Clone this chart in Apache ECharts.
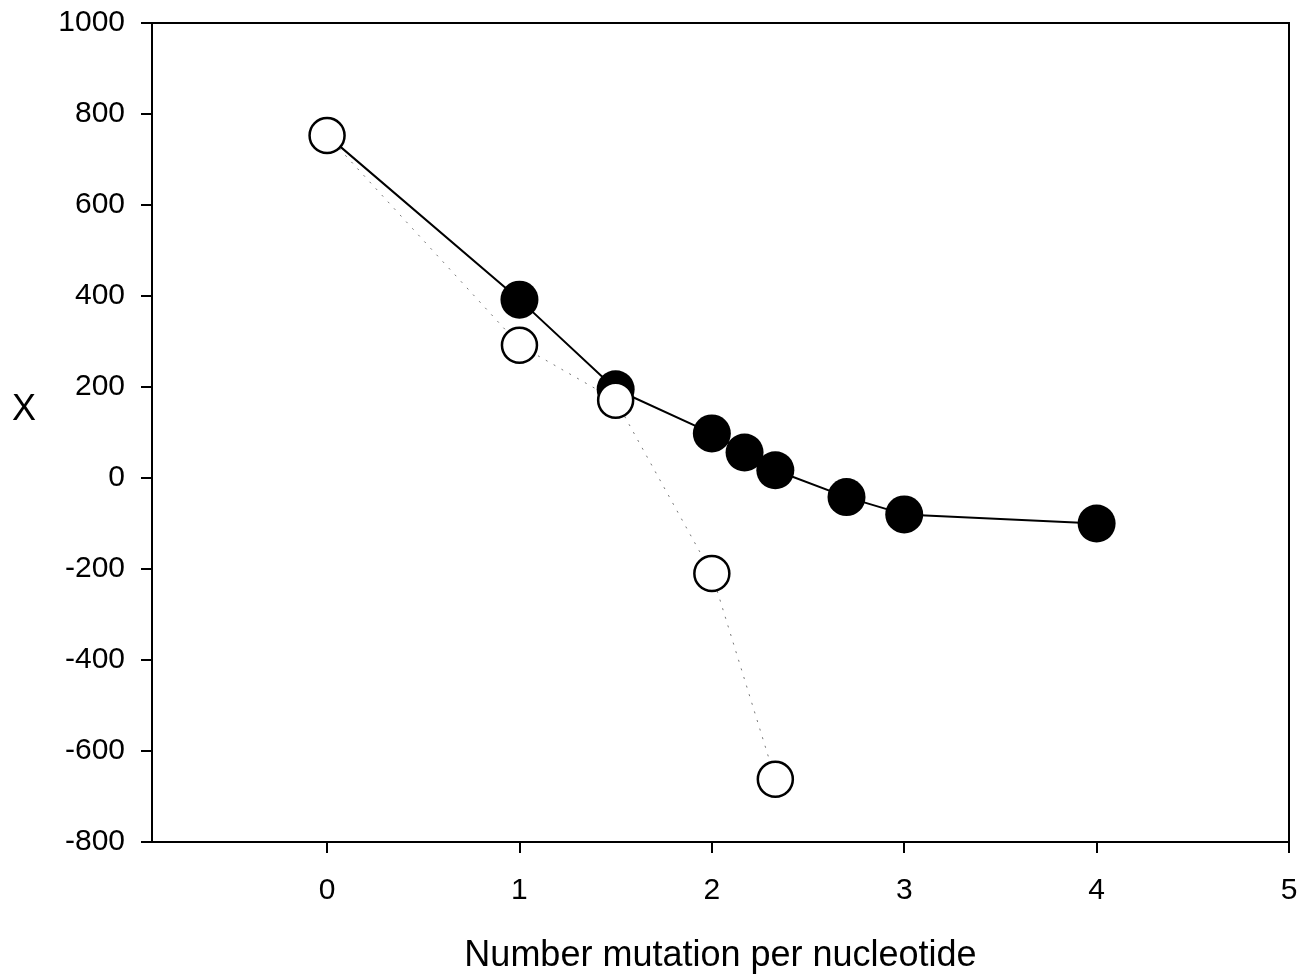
<!DOCTYPE html>
<html>
<head>
<meta charset="utf-8">
<script src="https://cdn.jsdelivr.net/npm/echarts@6/dist/echarts.min.js"></script>
<style>html,body{margin:0;padding:0;background:#fff;}#c{width:1305px;height:980px;}</style>
</head>
<body>
<div id="c"></div>
<script>
// Filled circles (solid line); the line starts from the shared open point at x=0
const filledX = [0, 1, 1.5, 2, 2.17, 2.33, 2.7, 3, 4];
const filledY = [753, 392, 195, 98, 56, 17, -42, -80, -100];
// Open circles (dotted line)
const openX = [0, 1, 1.5, 2, 2.33];
const openY = [753, 292, 171, -210, -662];
const xTicks = [0, 1, 2, 3, 4, 5];
const xTitle = 'Number mutation per nucleotide';
const yTitle = 'X';

const font = 'Liberation Sans, Arial, sans-serif';
const chart = echarts.init(document.getElementById('c'), null, {renderer: 'canvas'});

const filledData = filledX.map((x, i) => {
  const p = {value: [x, filledY[i]]};
  if (i === 0) p.symbol = 'none';
  return p;
});
const openData = openX.map((x, i) => [x, openY[i]]);

chart.setOption({
  animation: false,
  backgroundColor: '#fff',
  grid: {left: 152, right: 16, top: 23, bottom: 138, show: true, borderColor: '#000', borderWidth: 2, backgroundColor: 'transparent'},
  xAxis: {
    type: 'value', min: -0.91, max: 5,
    name: xTitle, nameLocation: 'middle', nameGap: 96,
    nameTextStyle: {fontFamily: font, fontSize: 36, color: '#000'},
    axisLine: {show: true, onZero: false, lineStyle: {color: '#000', width: 2}},
    axisTick: {show: true, inside: false, length: 11, lineStyle: {color: '#000', width: 2}, customValues: xTicks},
    axisLabel: {fontFamily: font, fontSize: 30, color: '#000', margin: 34, customValues: xTicks, formatter: v => String(v)},
    splitLine: {show: false}
  },
  yAxis: {
    type: 'value', min: -800, max: 1000, interval: 200,
    axisLine: {show: true, onZero: false, lineStyle: {color: '#000', width: 2}},
    axisTick: {show: true, inside: false, length: 11, lineStyle: {color: '#000', width: 2}},
    axisLabel: {fontFamily: font, fontSize: 30, color: '#000', margin: 27, formatter: v => String(v)},
    splitLine: {show: false}
  },
  graphic: [{
    type: 'text', left: 12, top: 392,
    style: {text: yTitle, font: '36px ' + font, fill: '#000'}
  }],
  series: [
    {
      type: 'line', data: filledData, z: 2,
      symbol: 'circle', symbolSize: 38,
      lineStyle: {color: '#000', width: 2},
      itemStyle: {color: '#000', borderColor: '#000', borderWidth: 0}
    },
    {
      type: 'line', data: openData, z: 3,
      symbol: 'circle', symbolSize: 35,
      lineStyle: {color: '#777', width: 1, type: [2, 7]},
      itemStyle: {color: '#fff', borderColor: '#000', borderWidth: 2.5}
    }
  ]
});
</script>
</body>
</html>
